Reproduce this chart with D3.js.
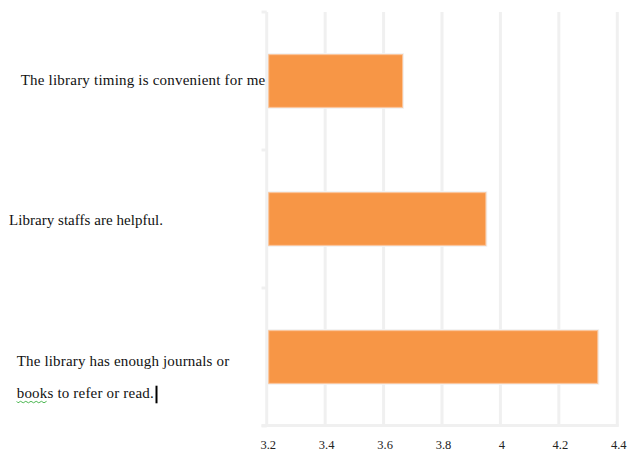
<!DOCTYPE html>
<html>
<head>
<meta charset="utf-8">
<script src="https://cdn.jsdelivr.net/npm/d3@7/dist/d3.min.js"></script>
<style>
  html, body { margin: 0; padding: 0; background: #fff; }
  svg { display: block; }
</style>
</head>
<body>
<svg id="chart" width="632" height="456"></svg>
<script>
// ---- data ----
const categories = [
  "The library timing is convenient for me",
  "Library staffs are helpful.",
  "The library has enough journals or books to refer or read."
];
const labelLines = [
  ["The library timing is convenient for me"],
  ["Library staffs are helpful."],
  ["The library has enough journals or", "books to refer or read."]
];
const values = [3.665, 3.95, 4.333];
const tickValues = [3.2, 3.4, 3.6, 3.8, 4, 4.2, 4.4];
const tickLabels = ["3.2", "3.4", "3.6", "3.8", "4", "4.2", "4.4"];

// ---- layout ----
const svg = d3.select("#chart");
const x = d3.scaleLinear().domain([3.2, 4.4]).range([266.7, 617.3]);
const y = d3.scaleBand().domain(categories).range([12, 426])
  .paddingInner(0.618).paddingOuter(0.309);
const step = y.step();

const grid = "#f0f0f0";

// vertical gridlines
svg.append("g").selectAll("line").data(tickValues).join("line")
  .attr("x1", d => x(d)).attr("x2", d => x(d))
  .attr("y1", 12).attr("y2", 426)
  .attr("stroke", grid).attr("stroke-width", 3);

// bottom baseline
svg.append("line")
  .attr("x1", 261.5).attr("x2", x(4.4) + 1.5)
  .attr("y1", 425.5).attr("y2", 425.5)
  .attr("stroke", grid).attr("stroke-width", 3);

// category ticks at band boundaries
const boundaries = categories.map((c, i) => y.range()[0] + i * step).concat([426]);
svg.append("g").selectAll("line").data(boundaries).join("line")
  .attr("x1", 261.5).attr("x2", x(3.2))
  .attr("y1", d => d).attr("y2", d => d)
  .attr("stroke", grid).attr("stroke-width", 3);

// bars: outer light halo then fill
const bars = svg.append("g");
bars.selectAll("rect.halo").data(values).join("rect")
  .attr("class", "halo")
  .attr("x", x(3.2) + 1)
  .attr("y", (d, i) => y(categories[i]) - 1.5)
  .attr("width", d => x(d) - x(3.2) + 0.5)
  .attr("height", y.bandwidth() + 3)
  .attr("fill", "#f2f2f2");
bars.selectAll("rect.bar").data(values).join("rect")
  .attr("class", "bar")
  .attr("x", x(3.2) + 2)
  .attr("y", (d, i) => y(categories[i]))
  .attr("width", d => x(d) - x(3.2) - 2)
  .attr("height", y.bandwidth())
  .attr("fill", "#f79646")
  .attr("stroke", "#fbc49a")
  .attr("stroke-width", 1);

// x tick labels
svg.append("g").selectAll("text").data(tickValues).join("text")
  .attr("x", d => x(d) + 1.5)
  .attr("y", 448.7)
  .attr("text-anchor", "middle")
  .attr("font-family", "'Liberation Serif', 'Times New Roman', serif")
  .attr("font-size", 12.5)
  .attr("fill", "#222")
  .text((d, i) => tickLabels[i]);

// category labels (left-aligned, justified-looking)
const labelFont = "'Liberation Serif', 'Times New Roman', serif";
const labelSpec = [
  { x: 20.7, dy: [4], w: [244.5] },
  { x: 9, dy: [6], w: [154] },
  { x: 16.7, dy: [8.7, 41.3], w: [212.5, 137] }
];
const lg = svg.append("g");
labelLines.forEach((lines, i) => {
  const cy = y(categories[i]) + y.bandwidth() / 2;
  lines.forEach((ln, j) => {
    lg.append("text")
      .attr("x", labelSpec[i].x)
      .attr("y", cy + labelSpec[i].dy[j])
      .attr("font-family", labelFont)
      .attr("font-size", 15)
      .attr("fill", "#111")
      .attr("textLength", labelSpec[i].w[j])
      .attr("lengthAdjust", "spacing")
      .text(ln);
  });
});

// Word-document artefacts: spell-check underline under "books" and text cursor
const cy3 = y(categories[2]) + y.bandwidth() / 2;
const waveY = cy3 + 41.3 + 3;
let p = "M16.7," + waveY;
for (let k = 0; k < 12; k++) {
  const xx = 16.7 + k * 2.6 + 1.3;
  p += " L" + xx + "," + (waveY + (k % 2 === 0 ? 1.5 : 0));
}
svg.append("path").attr("d", p).attr("fill", "none")
  .attr("stroke", "#3cb043").attr("stroke-width", 0.9);
svg.append("line")
  .attr("x1", 156.5).attr("x2", 156.5)
  .attr("y1", cy3 + 28.7).attr("y2", cy3 + 46.3)
  .attr("stroke", "#000").attr("stroke-width", 2);
</script>
</body>
</html>
